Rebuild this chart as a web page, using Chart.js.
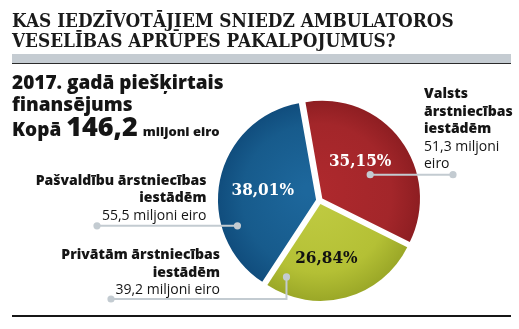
<!DOCTYPE html>
<html lang="lv">
<head>
<meta charset="utf-8">
<script src="https://cdn.jsdelivr.net/npm/chart.js@4.4.0/dist/chart.umd.min.js"></script>
<style>
  html, body { margin: 0; padding: 0; background: #fff; }
  #wrap { position: relative; width: 519px; height: 329px; overflow: hidden; font-family: 'Open Sans', Lato, sans-serif; color: #151515; }
  #wrap canvas { position: absolute; left: 0; top: 0; }
  .t { position: absolute; white-space: nowrap; }
  #virsraksts { left: 12px; top: 10px; font-family: 'DejaVu Serif', serif; font-stretch: condensed; font-weight: bold; font-size: 18.8px; line-height: 20px; color: #1a1a1a; }
  #josla { position: absolute; left: 12px; top: 54px; width: 499px; height: 9px; background: #c5ccd2; border-bottom: 1.5px solid #2b2b2b; }
  #apaksa { position: absolute; left: 12px; top: 315px; width: 499px; height: 2px; background: #161616; }
  #kopsumma { left: 12px; top: 70.8px; font-weight: 800; font-size: 19px; line-height: 22.4px; }
  #kopsumma .r3 { margin-top: 2px; }
  #kopsumma .liels { font-size: 27px; line-height: 0; }
  #kopsumma .mazs { font-size: 13px; line-height: 0; }
  .lbl { font-size: 14px; line-height: 17.5px; }
  .lbl b { font-weight: 800; }
  #pasv { right: 312.5px; top: 170.8px; text-align: right; }
  #priv { right: 299px; top: 245px; text-align: right; }
  #valsts { left: 424px; top: 84px; text-align: left; }
</style>
</head>
<body>
<div id="wrap">
  <canvas id="wykres" width="519" height="329"></canvas>
  <div class="t" id="virsraksts">KAS IEDZĪVOTĀJIEM SNIEDZ AMBULATOROS<br>VESELĪBAS APRŪPES PAKALPOJUMUS?</div>
  <div id="josla"></div>
  <div class="t" id="kopsumma">
    <div>2017. gadā piešķirtais</div>
    <div>finansējums</div>
    <div class="r3">Kopā <span class="liels">146,2</span> <span class="mazs">miljoni eiro</span></div>
  </div>
  <div class="t lbl" id="pasv"><b>Pašvaldību ārstniecības<br>iestādēm</b><br>55,5 miljoni eiro</div>
  <div class="t lbl" id="priv"><b>Privātām ārstniecības<br>iestādēm</b><br>39,2 miljoni eiro</div>
  <div class="t lbl" id="valsts"><b>Valsts<br>ārstniecības<br>iestādēm</b><br>51,3 miljoni<br>eiro</div>
  <div id="apaksa"></div>
</div>
<script>
// dati no attēla (miljoni eiro)
const iestades = ['Valsts', 'Privātām', 'Pašvaldību'];
const summas = [51.3, 39.2, 55.5];
const procenti = ['35,15%', '26,84%', '38,01%'];

// krāsas: gaišā (vidus), vidējā un tumšā (mala)
const krasas = [
  ['#ae292d', '#a3262a', '#8c1d21'],
  ['#c0cb42', '#b4c035', '#98a526'],
  ['#1d679c', '#175b8c', '#104c7c']
];
const tekstaKrasas = ['#ffffff', '#111111', '#ffffff'];

// vietas daivā (daļa no leņķa, daļa no rādiusa): punkts līnijai un procentu teksts
const punkti = [
  { a: 0.583, r: 0.544, uz: 'pa labi', x: 453, ta: 0.43, tr: 0.55 },
  { a: 0.915, r: 0.83, uz: 'lejup', y: 299, x: 111, ta: 0.59, tr: 0.55 },
  { a: 0.279, r: 0.844, uz: 'pa kreisi', x: 97, ta: 0.5, tr: 0.55 }
];

function nobide(arc) {
  // tas pats, ko ArcElement.draw dara ar offset
  const off = (arc.options.offset || 0) / 4;
  const circ = arc.endAngle - arc.startAngle;
  const fix = 1 - Math.sin(Math.min(Math.PI, circ));
  return off * (1 + fix);
}

const uzraksti = {
  id: 'uzraksti',
  afterDatasetsDraw(chart) {
    const ctx = chart.ctx;
    const meta = chart.getDatasetMeta(0);
    meta.data.forEach(function (arc, i) {
      const mid = (arc.startAngle + arc.endAngle) / 2;
      const span = arc.endAngle - arc.startAngle;
      const s = nobide(arc);
      const R = arc.outerRadius;
      const cx = arc.x + Math.cos(mid) * s;
      const cy = arc.y + Math.sin(mid) * s;
      const p = punkti[i];

      // savienojuma līnija
      const ang = arc.startAngle + span * p.a;
      const px = cx + Math.cos(ang) * R * p.r;
      const py = cy + Math.sin(ang) * R * p.r;
      ctx.save();
      ctx.strokeStyle = '#c3cbd1';
      ctx.fillStyle = '#c3cbd1';
      ctx.lineWidth = 2;
      ctx.beginPath();
      ctx.moveTo(px, py);
      let ex = p.x, ey = py;
      if (p.uz === 'lejup') {
        ctx.lineTo(px, p.y);
        ey = p.y;
      }
      ctx.lineTo(ex, ey);
      ctx.stroke();
      [[px, py], [ex, ey]].forEach(function (q) {
        ctx.beginPath();
        ctx.arc(q[0], q[1], 3.6, 0, Math.PI * 2);
        ctx.fill();
      });

      // procenti
      const ta = arc.startAngle + span * p.ta;
      const lx = cx + Math.cos(ta) * R * p.tr;
      const ly = cy + Math.sin(ta) * R * p.tr;
      ctx.font = 'bold 17px "DejaVu Serif", serif';
      ctx.fontStretch = 'condensed';
      ctx.fillStyle = tekstaKrasas[i];
      ctx.textAlign = 'center';
      ctx.textBaseline = 'alphabetic';
      ctx.fillText(procenti[i], lx, ly + 6.2);
      ctx.restore();
    });
  }
};

new Chart(document.getElementById('wykres'), {
  type: 'pie',
  data: {
    labels: iestades,
    datasets: [{
      data: summas,
      borderWidth: 0,
      offset: 14,
      hoverOffset: 0,
      radius: 97,
      backgroundColor: function (c) {
        const chart = c.chart;
        const a = chart.chartArea;
        const k = krasas[c.dataIndex];
        if (!a) return k[1];
        const x = (a.left + a.right) / 2, y = (a.top + a.bottom) / 2;
        const g = chart.ctx.createRadialGradient(x - 8, y - 10, 5, x, y, 100);
        g.addColorStop(0, k[0]);
        g.addColorStop(0.7, k[1]);
        g.addColorStop(1, k[2]);
        return g;
      }
    }]
  },
  options: {
    responsive: false,
    animation: false,
    rotation: -10,
    layout: { padding: { left: 170, right: 50, top: 90, bottom: 18 } },
    plugins: {
      legend: { display: false },
      tooltip: { enabled: false }
    }
  },
  plugins: [uzraksti]
});
</script>
</body>
</html>
